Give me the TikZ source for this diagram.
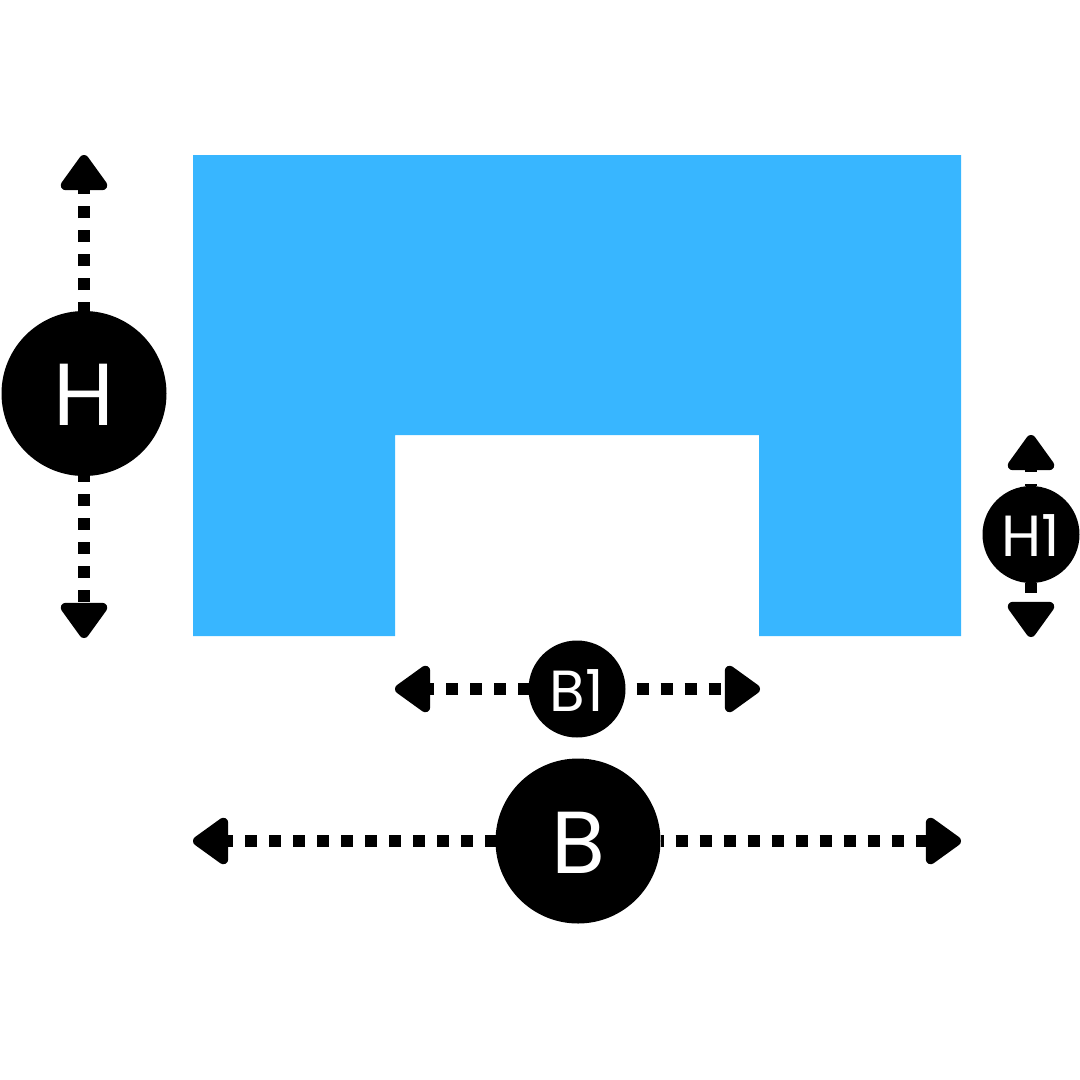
\documentclass[tikz,border=0pt]{standalone}
\usepackage{fontspec}
\setmainfont{Poppins}
\usepackage{tikz}
\usetikzlibrary{arrows.meta}
\definecolor{planblue}{HTML}{38B6FF}
\begin{document}
\begin{tikzpicture}[x=1pt,y=-1pt]
\tikzstyle{dim}=[circle, inner sep=0pt, outer sep=0pt, fill=black, text=white]
\tikzstyle{big}=[dim, minimum size=165pt, font=\fontsize{88}{88}\selectfont, text height=64pt]
\tikzstyle{small}=[dim, minimum size=97pt, font=\fontsize{58}{58}\selectfont, text height=44pt]
\tikzstyle{connect}=[-{Triangle[round,line width=10pt,length=39pt,width=53pt]}, line width=12pt, dash pattern=on 12pt off 12pt]
\useasboundingbox (0,0) rectangle (1080,1080);
\fill[planblue] (193,155) -- (961,155) -- (961,636) -- (759,636) -- (759,435) -- (395,435) -- (395,636) -- (193,636) -- cycle;

	\node[big] (h) at (84,393.5) {H};
	\node[big] (b) at (578,841) {B};
	\node[small] (b_1) at (577,689) {B1};
	\node[small] (h_1) at (1031,534.5) {H1};

	\coordinate (h_up) at (84,155);
	\coordinate (h_down) at (84,638);
	\coordinate (b_left) at (193,841);
	\coordinate (b_right) at (961,841);
	\coordinate (b_1_left) at (395,689);
	\coordinate (b_1_right) at (760,689);
	\coordinate (h_1_up) at (1031,435);
	\coordinate (h_1_down) at (1031,637);

	\path
		(h) edge [connect, dash phase=3pt] (h_up)
		(h) edge [connect, dash phase=6pt] (h_down)
		(b) edge [connect, dash phase=1pt] (b_left)
		(b) edge [connect, dash phase=9pt] (b_right)
		(b_1) edge [connect, dash phase=1pt] (b_1_left)
		(b_1) edge [connect, dash phase=13pt] (b_1_right)
		(h_1) edge [connect, dash phase=10pt] (h_1_up)
		(h_1) edge [connect, dash phase=2pt] (h_1_down);

\end{tikzpicture}
\end{document}
